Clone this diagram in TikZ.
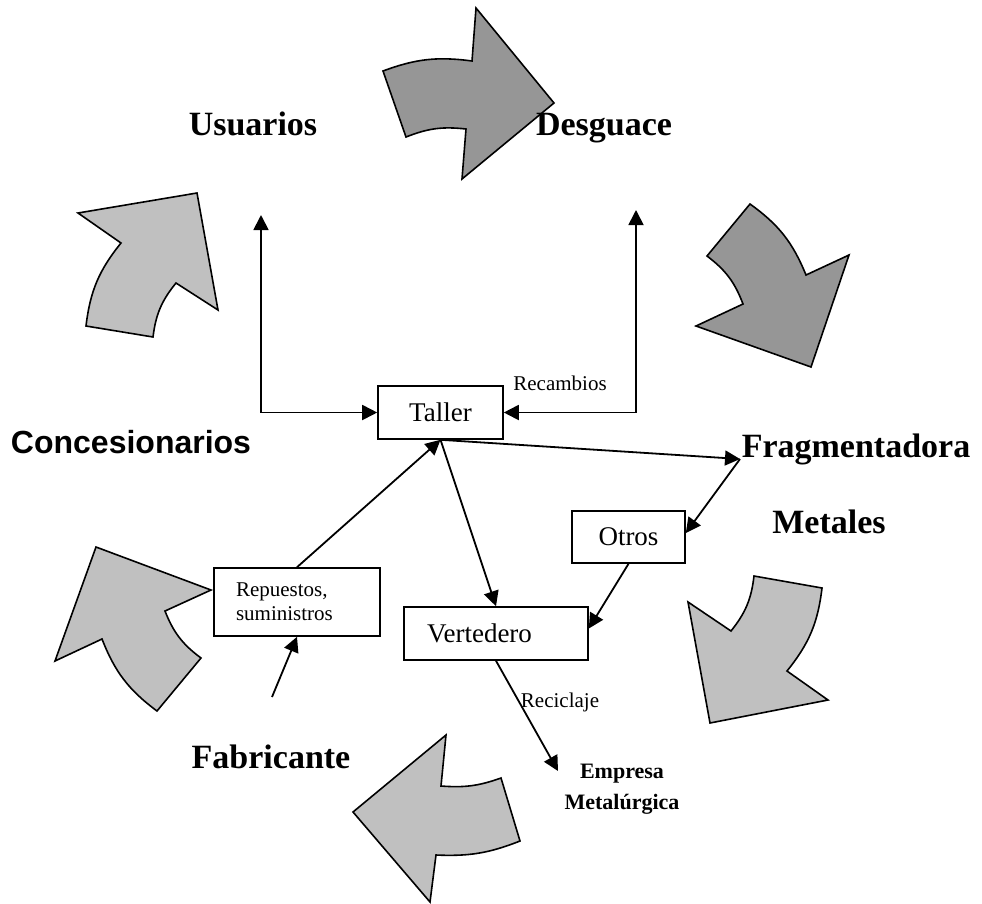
\documentclass[tikz,border=0pt]{standalone}
\usepackage{fontspec}
\setmainfont{Liberation Serif}
\newfontfamily\arialfont{Liberation Sans}
\usetikzlibrary{arrows.meta}
\definecolor{darkfill}{HTML}{969696}
\definecolor{lightfill}{HTML}{C0C0C0}
\begin{document}
\begin{tikzpicture}[x=1pt,y=-1pt,
  >={Triangle[length=15pt,width=15pt]},
  conn/.style={line width=1.8pt},
  box/.style={draw,line width=1.6pt,rectangle,inner sep=0pt},
  big/.style={font=\fontsize{34}{36}\selectfont\bfseries,anchor=base,inner sep=0pt},
  mid/.style={font=\fontsize{27}{30}\selectfont},
  small/.style={font=\fontsize{21}{24}\selectfont,anchor=base,inner sep=0pt},
  darrow/.style={fill=darkfill,draw=black,line width=1.6pt,line join=miter},
  larrow/.style={fill=lightfill,draw=black,line width=1.6pt,line join=miter}]
\useasboundingbox (0,0) rectangle (982,903);

% block arrows
\draw[darrow] (383,71) to[bend left=14] (472,61) -- (476,8) -- (554,103) -- (462,179) -- (466,129) to[bend right=14] (406,137) -- cycle;
\draw[darrow] (750,204) to[bend left=16] (806,275) -- (849,255) -- (811,367) -- (696,326) -- (743,304) to[bend right=16] (707,256) -- cycle;
\draw[larrow] (78,213) -- (197,193) -- (218,310) -- (176,283) to[bend right=16] (153,337) -- (86,326) to[bend left=16] (121,243) -- cycle;
\draw[larrow] (96,547) -- (211,590) -- (165,611) to[bend right=16] (201,658) -- (157,711) to[bend left=16] (102,639) -- (55,661) -- cycle;
\draw[larrow] (446,735) -- (441,786) to[bend right=12] (501,778) -- (520,841) to[bend left=12] (436,855) -- (430,902) -- (353,812) -- cycle;
\draw[larrow] (754,576) -- (822,588) to[bend left=16] (787,671) -- (828,700) -- (710,723) -- (688,602) -- (731,631) to[bend right=16] cycle;

% labels
\node[big] (usu) at (253,135) {Usuarios};
\node[big] (des) at (604,135) {Desguace};
\node[big,font=\arialfont\fontsize{32}{36}\selectfont\bfseries] (conc) at (131,453) {Concesionarios};
\node[big] (frag) at (856,457) {Fragmentadora};
\node[big] (met) at (829,533) {Metales};
\node[big] (fab) at (271,768) {Fabricante};
\node[font=\fontsize{22}{31}\selectfont\bfseries,align=center,inner sep=0pt] (emp) at (622,789) {Empresa\\Metalúrgica};

% boxes
\node[box,mid,minimum width=125pt,minimum height=53pt] (taller) at (440.5,412.5) {Taller};
\node[box,mid,minimum width=113pt,minimum height=52pt] (otros) at (628.5,537) {Otros};
\node[box,mid,minimum height=53pt,inner xsep=23pt,text width=138pt,align=left] (vert) at (496,633.5) {Vertedero};
\node[box,font=\fontsize{21}{24}\selectfont,minimum height=68pt,inner xsep=22pt,text width=122pt,align=left] (rep) at (297,602) {Repuestos,\\suministros};

\node[small] (recl) at (560,390) {Recambios};
\node[small] (recil) at (560,707) {Reciclaje};

% connector end points
\coordinate (uTop) at (261,215);
\coordinate (dTop) at (636,210);
\coordinate (fragL) at (740,459);
\coordinate (fabTop) at (272,697);
\coordinate (empIn) at (558,771);

% connectors
\draw[conn,<->] (uTop) |- (taller.west);
\draw[conn,<->] (dTop) |- (taller.east);
\draw[conn,->] (taller.south) -- (fragL);
\draw[conn,->] (fragL) -- ([yshift=4pt]otros.east);
\draw[conn,->] (taller.south) -- (vert.north);
\draw[conn,->] (otros.south) -- ([yshift=5pt]vert.east);
\draw[conn,->] (rep.north) -- (taller.south);
\draw[conn,->] (fabTop) -- (rep.south);
\draw[conn,->] (vert.south) -- (empIn);
\end{tikzpicture}
\end{document}
